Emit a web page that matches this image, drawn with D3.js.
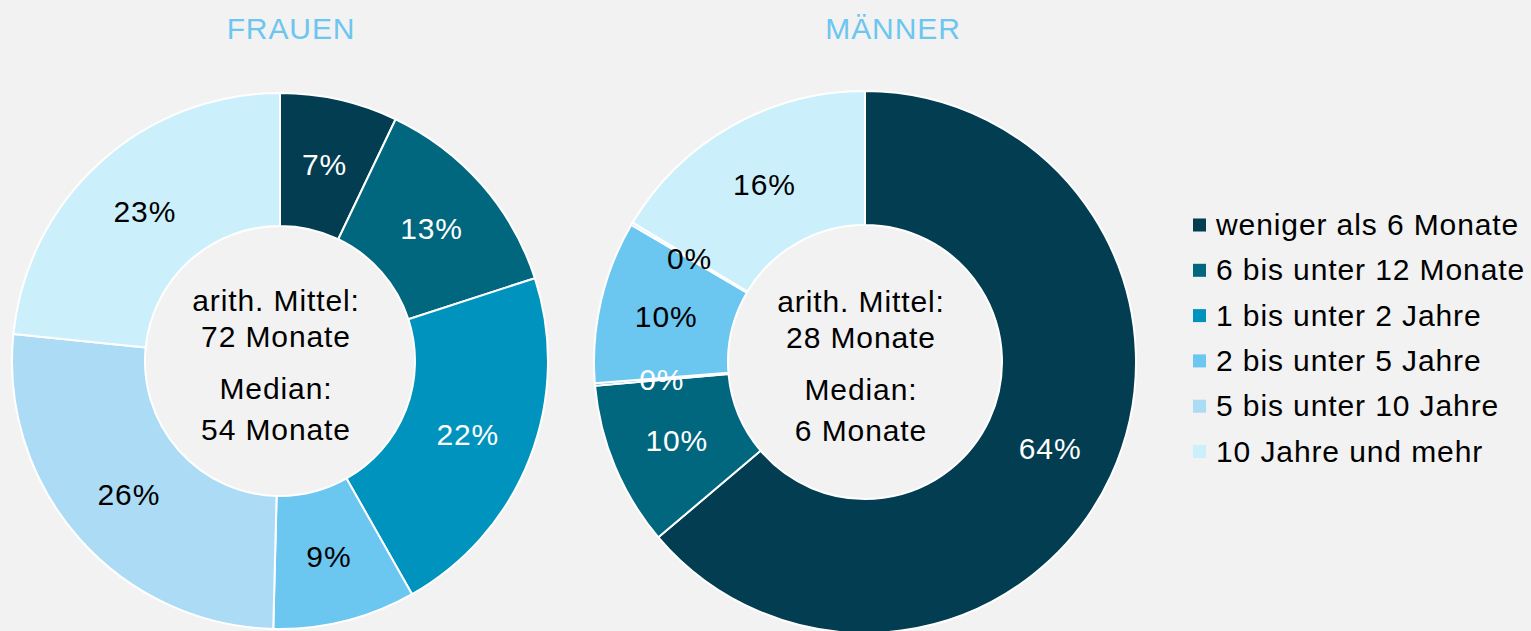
<!DOCTYPE html>
<html><head><meta charset="utf-8">
<script src="https://cdn.jsdelivr.net/npm/d3@7"></script>
<style>
html,body{margin:0;padding:0;background:#f2f2f2;}
text{font-family:"Liberation Sans",Arial,Helvetica,sans-serif;}
</style></head>
<body>
<svg id="chart" width="1531" height="631"></svg>
<script>
const categories = ["weniger als 6 Monate","6 bis unter 12 Monate","1 bis unter 2 Jahre","2 bis unter 5 Jahre","5 bis unter 10 Jahre","10 Jahre und mehr"];
const colors = ["#023d51","#00677f","#0093bd","#6bc6f0","#acdcf5","#ccf0fb"];
const labelColors = ["#ffffff","#ffffff","#ffffff","#000000","#000000","#000000"];
const frauenValues = [7.1, 12.9, 21.8, 8.6, 26.2, 23.4];
const maennerValues = [63.8, 9.8, 0.15, 9.7, 0.15, 16.4];
const titles = ["FRAUEN","MÄNNER"];
const frauenCenterText = ["arith. Mittel:","72 Monate","Median:","54 Monate"];
const maennerCenterText = ["arith. Mittel:","28 Monate","Median:","6 Monate"];

const svg = d3.select("#chart");
svg.append("rect").attr("width",1531).attr("height",631).attr("fill","#f2f2f2");

const FS = 30, LS = "0.9px";
const charts = [
  {title:titles[0], values:frauenValues, center:frauenCenterText, cx:280, cy:361, ro:268, ri:135, tx:291},
  {title:titles[1], values:maennerValues, center:maennerCenterText, cx:865, cy:362, ro:271, ri:137, tx:893}
];

const pie = d3.pie().sort(null).value(d=>d.v);
charts.forEach(c=>{
  const data = c.values.map((v,i)=>({v, i}));
  const arcs = pie(data);
  const arc = d3.arc().innerRadius(c.ri).outerRadius(c.ro);
  const g = svg.append("g").attr("transform",`translate(${c.cx},${c.cy})`);
  g.selectAll("path").data(arcs).join("path")
    .attr("d",arc)
    .attr("fill",d=>colors[d.data.i])
    .attr("stroke","#ffffff").attr("stroke-width",2).attr("stroke-linejoin","round");
  g.selectAll("text.lbl").data(arcs).join("text").attr("class","lbl")
    .attr("transform",d=>`translate(${arc.centroid(d)})`)
    .attr("text-anchor","middle").attr("dy","0.36em")
    .attr("font-size",FS).attr("letter-spacing",LS)
    .attr("fill",d=>labelColors[d.data.i])
    .text(d=>Math.round(d.data.v)+"%");
  const cy = [-50,-14,38,79];
  g.selectAll("text.ctr").data(c.center).join("text").attr("class","ctr")
    .attr("x",-4).attr("y",(d,i)=>cy[i])
    .attr("text-anchor","middle").attr("font-size",FS).attr("letter-spacing",LS)
    .attr("fill","#000").text(d=>d);
  svg.append("text").attr("x",c.tx).attr("y",39).attr("text-anchor","middle")
    .attr("font-size",FS).attr("letter-spacing",LS).attr("fill","#6cc6ef").text(c.title);
});

const legend = svg.append("g").attr("transform","translate(1193,225)");
const rows = legend.selectAll("g").data(categories).join("g")
  .attr("transform",(d,i)=>`translate(0,${i*45.3})`);
rows.append("rect").attr("x",0).attr("y",-6.5).attr("width",13).attr("height",13)
  .attr("fill",(d,i)=>colors[i]);
rows.append("text").attr("x",23).attr("y",10).attr("font-size",FS).attr("letter-spacing",LS)
  .attr("fill","#000").text(d=>d);
</script>
</body></html>
